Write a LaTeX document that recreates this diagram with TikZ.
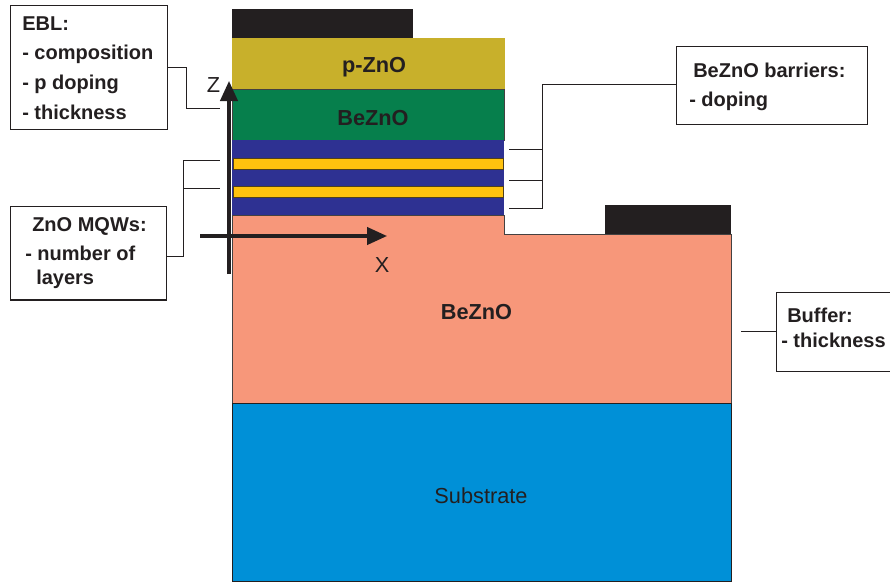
\documentclass[tikz,border=0pt]{standalone}
\usepackage{fontspec}
\setmainfont{Liberation Sans}
\usetikzlibrary{arrows.meta}
\definecolor{ink}{HTML}{231F20}
\definecolor{gold}{HTML}{C8B02B}
\definecolor{grn}{HTML}{067F4C}
\definecolor{blu}{HTML}{2E3192}
\definecolor{yel}{HTML}{FFC20E}
\definecolor{sal}{HTML}{F7977A}
\definecolor{sub}{HTML}{0090D7}
\tikzset{
  x=0.75pt,y=-0.75pt,
  infobox/.style={draw=ink,fill=white,line width=0.9pt,inner sep=0pt,anchor=north west},
  lbl/.style={font=\fontsize{15}{18}\selectfont\bfseries,text=ink,anchor=base west,inner sep=0pt},
  laylbl/.style={font=\fontsize{16.3}{19}\selectfont\bfseries,text=ink,anchor=base,inner sep=0pt},
  axlbl/.style={font=\fontsize{16.3}{19}\selectfont,text=ink,anchor=base,inner sep=0pt},
  conn/.style={draw=ink,line width=0.7pt},
  edge/.style={draw=ink!85,line width=0.6pt},
  well/.style={fill=yel,draw=ink!80!yel,line width=0.55pt},
  axis/.style={draw=ink,line width=2.4pt,-{Triangle[length=15pt,width=13pt]}},
}
\begin{document}
\begin{tikzpicture}
\useasboundingbox (0,0) rectangle (890,582);
% layers
\fill[ink] (232,9) rectangle (413,38);
\fill[ink] (605,205) rectangle (731,234);
\fill[gold] (232,38) rectangle (505,89);
\filldraw[fill=grn,edge] (232,89) rectangle (504,140);
\fill[blu] (232,140) rectangle (504,215);
\filldraw[well] (233,158.8) rectangle (503.5,169);
\filldraw[well] (233,186.8) rectangle (503.5,197);
\filldraw[fill=sal,edge] (232,215) -- (504,215) -- (504,234) -- (731,234) -- (731,403) -- (232,403) -- cycle;
\filldraw[fill=sub,draw=ink,line width=0.7pt] (232,403) rectangle (731,581);
% layer labels
\node[laylbl] (lp) at (374,72) {p-ZnO};
\node[laylbl] (lg) at (373,125) {BeZnO};
\node[laylbl] (lb) at (476.5,319) {BeZnO};
\node[axlbl] (ls) at (481,503) {Substrate};
% boxes
\node[infobox,minimum width=117.75pt,minimum height=93pt] (ebl) at (10,5) {};
\node[infobox,minimum width=117pt,minimum height=70pt] (mqw) at (10,206) {};
\node[infobox,minimum width=143.25pt,minimum height=58.5pt] (bar) at (676,46) {};
\node[infobox,minimum width=90pt,minimum height=59.25pt] (buf) at (776,292) {};
\node[lbl] (e1) at (22,30) {EBL:};
\node[lbl] (e2) at (22,59) {- composition};
\node[lbl] (e3) at (22,89) {- p doping};
\node[lbl] (e4) at (22,119) {- thickness};
\node[lbl] (m1) at (32,231) {ZnO MQWs:};
\node[lbl] (m2) at (25,260) {- number of};
\node[lbl] (m3) at (36,284) {layers};
\node[lbl] (b1) at (693,77) {BeZnO barriers:};
\node[lbl] (b2) at (689,106) {- doping};
\node[lbl] (f1) at (787,322) {Buffer:};
\node[lbl] (f2) at (781,347) {- thickness};
% connector ends
\coordinate (c1) at (220,108);
\coordinate (c2) at (220,160);
\coordinate (c3) at (220,188);
\coordinate (j1) at (183,188);
\coordinate (d1) at (509,149);
\coordinate (d2) at (509,180);
\coordinate (d3) at (509,208);
\coordinate (j2) at (542,149);
\coordinate (j3) at (542,180);
\coordinate (c4) at (741,331);
\coordinate (zs) at (229,274);
\coordinate (zt) at (229,81);
\coordinate (xs) at (200,236);
\coordinate (xt) at (387,236);
\draw[conn] (ebl.north east |- 0,67) -- (186,67) -- (186,108) -- (c1);
\draw[conn] (mqw.north east |- 0,256) -- (183,256) -- (183,160) -- (c2);
\draw[conn] (j1) -- (c3);
\draw[conn] (bar.north west |- 0,84) -- (542,84) -- (542,208) -- (d3);
\draw[conn] (d1) -- (j2);
\draw[conn] (d2) -- (j3);
\draw[conn] (buf.north west |- 0,331) -- (c4);
% axes
\draw[axis] (zs) -- (zt);
\draw[axis] (xs) -- (xt);
\node[axlbl] (zl) at (213.5,92) {Z};
\node[axlbl] (xl) at (382,272) {X};
\end{tikzpicture}
\end{document}
